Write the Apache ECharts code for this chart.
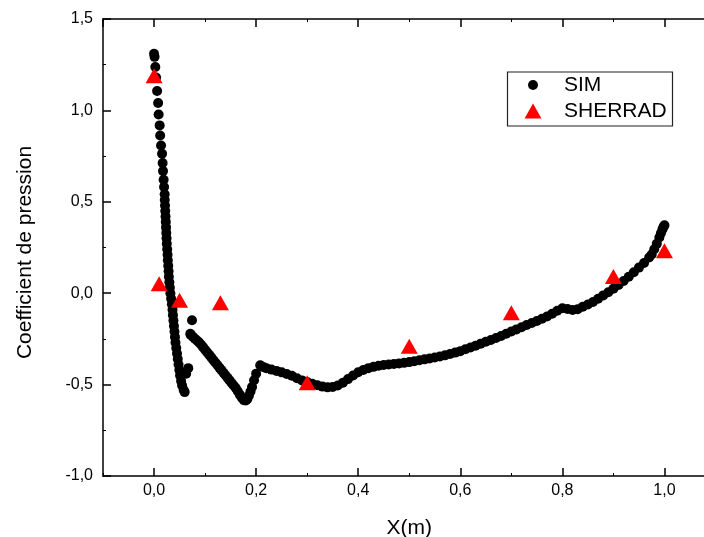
<!DOCTYPE html>
<html>
<head>
<meta charset="utf-8">
<script src="https://cdn.jsdelivr.net/npm/echarts@6/dist/echarts.min.js"></script>
<style>
html,body{margin:0;padding:0;background:#fff;}
#chart{width:704px;height:537px;}
</style>
</head>
<body>
<div id="chart"></div>
<script>
// SIM series (x in m, Cp)
const simX = [
  0.000,0.001,0.0025,0.004,0.006,0.008,0.009,0.011,0.012,0.0137,0.0157,0.0168,0.0176,0.0188,0.0196,0.0208,
  0.021,0.0215,0.022,0.0225,0.023,0.0235,0.024,0.0245,0.025,0.0258,0.0265,0.027,0.0278,0.0285,0.029,0.030,
  0.031,0.032,0.0335,0.035,0.0362,0.037,0.038,0.039,0.040,0.041,0.042,0.0435,0.045,0.0465,0.048,0.0495,
  0.051,0.053,0.055,0.058,0.060,0.063,0.067,
  0.0744,0.071,0.072,0.076,0.080,0.084,0.088,0.092,0.096,0.100,0.104,0.108,0.112,0.116,0.120,0.124,0.128,
  0.132,0.136,0.140,0.144,0.148,0.152,0.156,0.160,0.164,0.168,0.172,0.176,0.180,0.183,0.186,0.189,0.192,
  0.196,0.200,0.208,
  0.210,0.215,0.220,0.230,0.240,0.250,0.260,0.270,0.280,0.290,0.300,0.310,0.320,0.330,0.340,0.350,0.360,
  0.370,0.380,0.390,0.400,0.410,0.420,0.430,0.440,0.450,0.460,0.470,0.480,0.490,0.500,0.510,0.520,0.530,
  0.540,0.550,0.560,0.570,0.580,0.590,0.600,0.610,0.620,0.630,0.640,0.650,0.660,0.670,0.680,0.690,0.700,
  0.710,0.720,0.730,0.740,0.750,0.760,0.770,0.780,0.790,0.800,0.810,0.820,0.830,0.840,0.850,0.860,0.870,
  0.880,0.890,0.900,0.910,0.920,0.930,0.940,0.950,0.960,0.970,0.975,0.980,0.985,0.990,0.993,0.996,0.998,1.000
];
const simY = [
  1.310,1.293,1.237,1.180,1.106,1.040,0.978,0.918,0.863,0.808,0.763,0.712,0.668,0.621,0.581,0.541,
  0.510,0.480,0.450,0.420,0.390,0.360,0.330,0.300,0.270,0.240,0.210,0.180,0.150,0.120,0.090,0.060,
  0.030,0.000,-0.030,-0.060,-0.090,-0.120,-0.150,-0.180,-0.210,-0.240,-0.270,-0.300,-0.330,-0.360,-0.390,-0.420,
  -0.450,-0.480,-0.505,-0.530,-0.541,-0.440,-0.410,
  -0.148,-0.222,-0.228,-0.238,-0.249,-0.259,-0.269,-0.281,-0.295,-0.309,-0.323,-0.337,-0.351,-0.365,-0.379,-0.393,-0.407,
  -0.421,-0.435,-0.449,-0.463,-0.477,-0.491,-0.505,-0.519,-0.536,-0.555,-0.572,-0.585,-0.587,-0.578,-0.560,-0.538,-0.513,
  -0.476,-0.440,-0.394,
  -0.400,-0.405,-0.410,-0.418,-0.425,-0.433,-0.442,-0.452,-0.465,-0.477,-0.486,-0.495,-0.504,-0.511,-0.515,-0.513,-0.505,
  -0.490,-0.470,-0.450,-0.432,-0.420,-0.410,-0.403,-0.397,-0.393,-0.390,-0.387,-0.384,-0.381,-0.377,-0.372,-0.367,-0.362,
  -0.357,-0.352,-0.346,-0.340,-0.333,-0.325,-0.317,-0.307,-0.297,-0.287,-0.276,-0.266,-0.256,-0.245,-0.234,-0.222,-0.210,
  -0.198,-0.186,-0.174,-0.163,-0.152,-0.140,-0.127,-0.112,-0.096,-0.082,-0.086,-0.092,-0.088,-0.074,-0.062,-0.048,-0.030,
  -0.012,0.005,0.025,0.045,0.067,0.090,0.115,0.140,0.165,0.195,0.212,0.240,0.270,0.305,0.328,0.348,0.362,0.372
];
// SHERRAD series
const sherX = [0.0, 0.01, 0.05, 0.13, 0.3, 0.5, 0.7, 0.9, 1.0];
const sherY = [1.19, 0.052, -0.039, -0.052, -0.49, -0.29, -0.107, 0.091, 0.232];

const seriesNames = ['SIM', 'SHERRAD'];
const xTitle = 'X(m)';
const yTitle = 'Coefficient de pression';

const FONT = "'Liberation Sans', Arial, sans-serif";
const fmt = v => v.toFixed(1).replace('.', ',');
const xMajorFmt = v => {
  const k = v / 0.2;
  return Math.abs(k - Math.round(k)) < 1e-6 ? fmt(v) : '';
};

const simData = simX.map((x, i) => [x, simY[i]]);
const sherData = sherX.map((x, i) => [x, sherY[i]]);

const X_MIN = -0.1, X_MAX = 1.1;

const lineStyle = { color: '#000', width: 1.5 };
const chart = echarts.init(document.getElementById('chart'), null, { renderer: 'canvas' });

const mainX = (pos, labels) => ({
  type: 'value', position: pos, min: X_MIN, max: X_MAX, splitNumber: 6,
  axisLine: { show: true, onZero: false, lineStyle },
  axisTick: { show: true, inside: true, length: 8, lineStyle: { color: '#000', width: 1.5 } },
  axisLabel: { show: labels, formatter: xMajorFmt, margin: 7, fontSize: 16, color: '#000', fontFamily: FONT,
               showMinLabel: false, showMaxLabel: false },
  splitLine: { show: false },
  name: labels ? xTitle : '', nameLocation: 'middle', nameGap: 42,
  nameTextStyle: { fontSize: 21, color: '#000', fontFamily: FONT }
});
const minorX = (pos) => ({
  type: 'value', position: pos, min: X_MIN, max: X_MAX, interval: 0.2,
  axisLine: { show: false, onZero: false },
  axisTick: { show: true, inside: true, length: 3, lineStyle: { color: '#000', width: 1 } },
  axisLabel: { show: false },
  splitLine: { show: false }
});

chart.setOption({
  animation: false,
  backgroundColor: '#fff',
  grid: { left: 103, top: 19, width: 612.5, height: 457, containLabel: false, outerBoundsMode: 'none' },
  xAxis: [ mainX('bottom', true), minorX('bottom'), mainX('top', false), minorX('top') ],
  yAxis: [{
    type: 'value', position: 'left', min: -1, max: 1.5, interval: 0.5,
    axisLine: { show: true, onZero: false, lineStyle },
    axisTick: { show: true, inside: true, length: 8, lineStyle: { color: '#000', width: 1.5 } },
    minorTick: { show: true, splitNumber: 2, length: 3, lineStyle: { color: '#000', width: 1 } },
    axisLabel: { formatter: fmt, margin: 10, fontSize: 16, color: '#000', fontFamily: FONT },
    splitLine: { show: false },
    name: yTitle, nameLocation: 'middle', nameGap: 67, nameRotate: 90,
    nameTextStyle: { fontSize: 21, color: '#000', fontFamily: FONT, padding: [0, 10, 0, 0] }
  }],
  legend: [
    { data: [seriesNames[0]], orient: 'vertical', left: 528, top: 73, padding: 0,
      itemWidth: 10, itemHeight: 10, icon: 'circle',
      textStyle: { fontSize: 21, color: '#000', fontFamily: FONT, lineHeight: 24, padding: [0, 0, 0, 21] } },
    { data: [seriesNames[1]], orient: 'vertical', left: 524.5, top: 99, padding: 0,
      itemWidth: 17, itemHeight: 15, icon: 'triangle',
      textStyle: { fontSize: 21, color: '#000', fontFamily: FONT, lineHeight: 24, padding: [0, 0, 0, 17.5] } }
  ],
  graphic: [{
    type: 'rect', left: 505, top: 69.5, z: 100, silent: true,
    shape: { width: 165, height: 54 },
    style: { fill: 'none', stroke: '#222', lineWidth: 1.2 }
  }],
  series: [
    { name: seriesNames[0], type: 'scatter', xAxisIndex: 0, yAxisIndex: 0, data: simData,
      symbol: 'circle', symbolSize: 10, itemStyle: { color: '#000', opacity: 1 }, z: 2 },
    { name: seriesNames[1], type: 'scatter', xAxisIndex: 0, yAxisIndex: 0, data: sherData,
      symbol: 'triangle', symbolSize: [17, 15], itemStyle: { color: '#ff0000', opacity: 1 }, z: 3 }
  ]
});
</script>
</body>
</html>
